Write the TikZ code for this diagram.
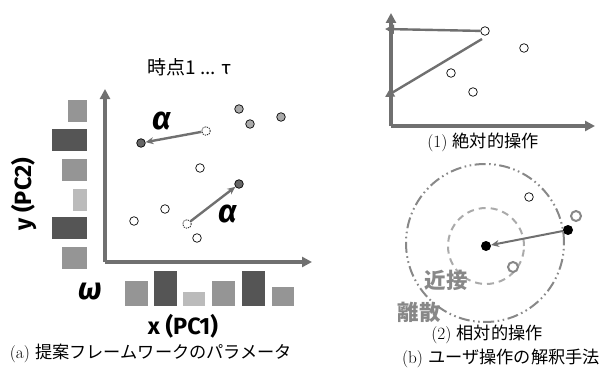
\documentclass[tikz,border=0pt]{standalone}
\usepackage{fontspec}
\newfontfamily\jp{Noto Sans CJK JP}
\newfontfamily\lab{Fira Sans}
\usetikzlibrary{arrows.meta}
\definecolor{axgray}{HTML}{707070}
\definecolor{dgray}{HTML}{555555}
\definecolor{mgray}{HTML}{959595}
\definecolor{lgray}{HTML}{BBBBBB}
\definecolor{pgray}{HTML}{AAAAAA}
\definecolor{ptdark}{HTML}{666666}
\definecolor{ringgray}{HTML}{888888}
\tikzset{
  axisline/.style={draw=axgray, line width=3.6pt, line join=miter},
  axtip/.style={-{Triangle[length=10pt,width=10pt]}},
  pt/.style={circle, draw=black, line width=0.7pt, minimum size=8.6pt, inner sep=0pt, fill=white},
  ghost/.style={pt, dash pattern=on 1.3pt off 1pt},
  arr/.style={draw=axgray, line width=2.4pt, -{Stealth[length=8pt,width=7pt]}},
  thinarr/.style={draw=axgray, line width=2.4pt, -{Triangle[length=9pt,width=9pt]}},
  caption/.style={font=\fontsize{17.2}{19}\selectfont, inner sep=0pt},
  boldlab/.style={font=\lab\bfseries\fontsize{23.5}{26}\selectfont, inner sep=0pt},
  greek/.style={font=\lab\bfseries\itshape\fontsize{32}{34}\selectfont, inner sep=0pt},
  ring/.style={circle, draw=ringgray, line width=2pt, minimum size=10pt, inner sep=0pt, fill=white},
  blk/.style={circle, fill=black, minimum size=10pt, inner sep=0pt},
  grayjp/.style={font=\jp\bfseries\fontsize{21.5}{24}\selectfont, text=ringgray, inner sep=0pt}
}
\begin{document}
\begin{tikzpicture}[x=1pt,y=-1pt]
\useasboundingbox (0,0) rectangle (600,369);

% ---------- panel (a) ----------
\node[inner sep=0pt, font=\jp\fontsize{19}{22}\selectfont] (title) at (189,67) {時点1 ... {\lab τ}};

\coordinate (yA) at (105,89);
\coordinate (oA) at (105,262);
\coordinate (xA) at (312,262);
\draw[axisline, axtip] (oA) -- (yA);
\draw[axisline, axtip] (oA) -- (xA);

% y weights
\fill[mgray] (68,100) rectangle (87,122);
\fill[dgray] (52,129) rectangle (87,151);
\fill[mgray] (62,159) rectangle (87,181);
\fill[lgray] (73,189) rectangle (87,211);
\fill[dgray] (52,217) rectangle (87,239);
\fill[mgray] (62,247) rectangle (87,269);

% x weights
\fill[mgray] (125,281) rectangle (148,306);
\fill[dgray] (154,271) rectangle (177,306);
\fill[lgray] (183,292) rectangle (205,306);
\fill[mgray] (212,281) rectangle (235,306);
\fill[dgray] (242,271) rectangle (265,306);
\fill[mgray] (272,287) rectangle (294,306);

\node[boldlab, rotate=90] (ylab) at (24,194) {y (PC2)};
\node[boldlab] (xlab) at (183,326) {x (PC1)};
\node[font=\lab\bfseries\itshape\fontsize{31}{34}\selectfont, inner sep=0pt] (omega) at (90,292) {ω};

% points
\node[pt, fill=pgray] (g1) at (239,109) {};
\node[pt, fill=pgray] (g2) at (250,124) {};
\node[pt, fill=pgray] (g3) at (281,117) {};
\node[ghost] (s1) at (206,131) {};
\node[pt, fill=ptdark] (d1) at (141,143) {};
\node[pt] (w1) at (200,168) {};
\node[pt, fill=ptdark] (d2) at (239,184) {};
\node[pt] (w2) at (165,209) {};
\node[pt] (w3) at (134,221) {};
\node[ghost] (s2) at (187,224) {};
\node[pt] (w4) at (197,238) {};
\draw[arr] (s1) -- (d1);
\draw[arr] (s2) -- (d2);
\node[greek] (al1) at (162,121) {α};
\node[greek] (al2) at (228,214) {α};

\node[caption] (capa) at (151,353) {(a) {\jp 提案フレームワークのパラメータ}};

% ---------- panel (b)(1) ----------
\coordinate (yB) at (391,13);
\coordinate (oB) at (391,126);
\coordinate (xB) at (595,126);
\draw[axisline, axtip] (oB) -- (yB);
\draw[axisline, axtip] (oB) -- (xB);

\node[pt] (c1) at (485,31) {};
\node[pt] (c2) at (524,48) {};
\node[pt] (c3) at (451,73) {};
\node[pt] (c4) at (473,92) {};
\coordinate (h1) at (385,29);
\coordinate (dst) at (482,39);
\coordinate (h2) at (385,97);
\draw[thinarr] (c1) -- (h1);
\draw[thinarr] (dst) -- (h2);

\node[caption] (cap1) at (483,142) {(1) {\jp 絶対的操作}};

% ---------- panel (b)(2) ----------
\node[circle, draw=ringgray, line width=2pt, minimum size=158pt, inner sep=0pt,
  dash pattern=on 11pt off 3.5pt on 1.6pt off 3.5pt on 1.6pt off 3.5pt] (outer) at (485,243) {};
\node[circle, draw=pgray, line width=2pt, minimum size=76pt, inner sep=0pt,
  dash pattern=on 7pt off 5pt] (inner) at (486,246) {};

\node[blk] (ctr) at (486,246) {};
\node[blk] (tgt) at (568,230) {};
\node[pt] (o1) at (529,197) {};
\node[ring] (r1) at (576,216) {};
\node[ring] (r2) at (513,267) {};
\draw[arr, line width=2pt] (tgt) -- (ctr);

\node[grayjp] (near) at (446,280) {近接};
\node[grayjp] (far) at (419,312) {離散};

\node[caption] (cap2) at (487,334) {(2) {\jp 相対的操作}};
\node[caption] (capb) at (501,358) {(b) {\jp ユーザ操作の解釈手法}};
\end{tikzpicture}
\end{document}
